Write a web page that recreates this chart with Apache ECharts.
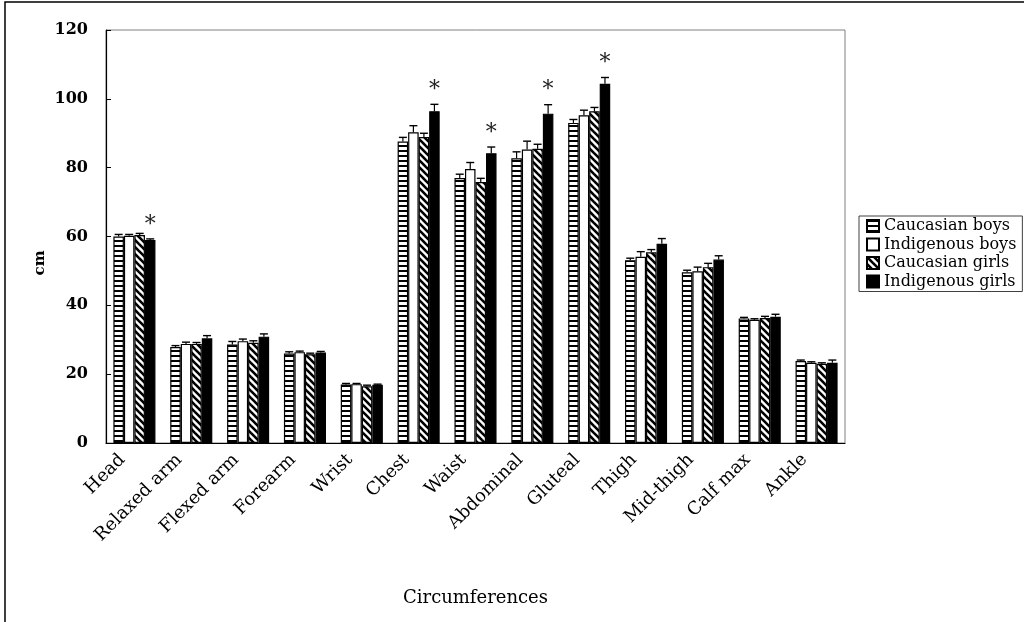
<!DOCTYPE html>
<html>
<head>
<meta charset="utf-8">
<script src="https://cdn.jsdelivr.net/npm/echarts@6/dist/echarts.min.js"></script>
<style>
  html, body { margin: 0; padding: 0; background: #fff; }
  #chart { width: 1024px; height: 622px; }
</style>
</head>
<body>
<div id="chart"></div>
<script>
// Body circumferences (cm), mean with upward SE bar
const categories = ['Head', 'Relaxed arm', 'Flexed arm', 'Forearm', 'Wrist', 'Chest', 'Waist',
  'Abdominal', 'Gluteal', 'Thigh', 'Mid-thigh', 'Calf max', 'Ankle'];
const seriesNames = ['Caucasian boys', 'Indigenous boys', 'Caucasian girls', 'Indigenous girls'];

const caucasianBoys    = [60.0, 27.9, 28.6, 26.0, 17.0, 87.6, 77.0, 82.7, 93.0, 53.1, 49.6, 36.2, 23.8];
const caucasianBoysSE  = [0.6, 0.4, 0.9, 0.5, 0.3, 1.2, 1.1, 1.9, 1.0, 0.6, 0.6, 0.3, 0.3];
const indigenousBoys   = [60.2, 28.8, 29.6, 26.4, 17.1, 90.3, 79.6, 85.3, 95.2, 54.1, 49.9, 35.8, 23.3];
const indigenousBoysSE = [0.4, 0.5, 0.6, 0.3, 0.2, 1.9, 1.9, 2.4, 1.5, 1.5, 1.2, 0.3, 0.3];
const caucasianGirls   = [60.4, 28.8, 29.1, 25.8, 16.5, 88.9, 75.8, 85.5, 96.4, 55.4, 51.1, 36.3, 23.0];
const caucasianGirlsSE = [0.5, 0.4, 0.6, 0.3, 0.3, 1.1, 1.1, 1.3, 1.1, 0.8, 1.1, 0.5, 0.3];
const indigenousGirls  = [59.0, 30.4, 30.9, 26.3, 16.9, 96.4, 84.2, 95.7, 104.4, 57.9, 53.3, 36.7, 23.3];
const indigenousGirlsSE= [0.3, 0.8, 0.8, 0.3, 0.2, 2.0, 1.8, 2.6, 1.8, 1.5, 1.1, 0.7, 0.8];
// significant difference flags (marked with *)
const significant = [true, false, false, false, false, true, true, true, true, false, false, false, false];

const yTicks = [0, 20, 40, 60, 80, 100, 120];

const means = [caucasianBoys, indigenousBoys, caucasianGirls, indigenousGirls];
const errs = [caucasianBoysSE, indigenousBoysSE, caucasianGirlsSE, indigenousGirlsSE];

// fill patterns
function horizontalStripes() {
  const c = document.createElement('canvas');
  c.width = 4; c.height = 5;
  const g = c.getContext('2d');
  g.fillStyle = '#fff'; g.fillRect(0, 0, 4, 5);
  g.fillStyle = '#000'; g.fillRect(0, 0, 4, 2);
  return { image: c, repeat: 'repeat' };
}
function diagonalHatch() {
  const s = 7;
  const c = document.createElement('canvas');
  c.width = s; c.height = s;
  const g = c.getContext('2d');
  g.fillStyle = '#fff'; g.fillRect(0, 0, s, s);
  g.strokeStyle = '#000'; g.lineWidth = 2.6;
  [[0, -s, 2 * s, s], [0, 0, s, s], [-s, 0, s, 2 * s]].forEach(function (l) {
    g.beginPath(); g.moveTo(l[0], l[1]); g.lineTo(l[2], l[3]); g.stroke();
  });
  return { image: c, repeat: 'repeat' };
}
const fills = [horizontalStripes(), '#ffffff', diagonalHatch(), '#000000'];

const GAP = 0.26;

const barSeries = seriesNames.map(function (name, i) {
  return {
    name: name,
    type: 'bar',
    barGap: 0,
    barCategoryGap: (GAP * 100) + '%',
    itemStyle: { color: fills[i], borderColor: '#000', borderWidth: 1.2 },
    data: means[i],
    z: 2
  };
});

const errorSeries = seriesNames.map(function (name, i) {
  return {
    name: name + ' SE',
    type: 'custom',
    z: 3,
    data: means[i].map(function (v, k) { return [k, v, errs[i][k]]; }),
    renderItem: function (params, api) {
      const k = api.value(0);
      const top = api.value(1) + api.value(2);
      const base = api.coord([k, api.value(1)]);
      const tip = api.coord([k, top]);
      const catW = api.size([1, 0])[0];
      const bw = catW * (1 - GAP) / 4;
      const x = base[0] + (i - 1.5) * bw;
      const children = [
        { type: 'line', shape: { x1: x, y1: base[1], x2: x, y2: tip[1] }, style: { stroke: '#000', lineWidth: 1.2 } },
        { type: 'line', shape: { x1: x - 4, y1: tip[1], x2: x + 4, y2: tip[1] }, style: { stroke: '#000', lineWidth: 1.4 } }
      ];
      if (i === 3 && significant[k]) {
        children.push({
          type: 'text',
          style: { text: '*', x: x, y: tip[1] - 14, align: 'center', verticalAlign: 'middle',
            font: '22px "DejaVu Serif"', fill: '#222' }
        });
      }
      return { type: 'group', children: children };
    }
  };
});

const chart = echarts.init(document.getElementById('chart'), null, { renderer: 'canvas' });
chart.setOption({
  animation: false,
  backgroundColor: '#fff',
  grid: { left: 106, right: 179, top: 30, bottom: 179, show: true, borderColor: '#808080', borderWidth: 1 },
  legend: {
    data: seriesNames,
    icon: 'rect',
    orient: 'vertical',
    left: 859, top: 216,
    itemWidth: 12, itemHeight: 12, itemGap: 2.5,
    padding: [2, 6, 2, 7],
    borderColor: '#404040', borderWidth: 1, borderRadius: 0,
    textStyle: { fontFamily: 'DejaVu Serif', fontSize: 16, color: '#000', lineHeight: 16 }
  },
  xAxis: {
    type: 'category',
    data: categories,
    name: 'Circumferences',
    nameLocation: 'middle',
    nameGap: 146,
    nameTextStyle: { fontFamily: 'DejaVu Serif', fontSize: 18, color: '#000' },
    axisLine: { lineStyle: { color: '#000', width: 1.2 } },
    axisTick: { inside: true, length: 5, lineStyle: { color: '#000' } },
    axisLabel: { interval: 0, rotate: 45, margin: 2, padding: [0, 17, 0, 0],
      fontFamily: 'DejaVu Serif', fontSize: 18, color: '#000' }
  },
  yAxis: {
    type: 'value',
    min: yTicks[0], max: yTicks[yTicks.length - 1], interval: 20,
    axisLine: { show: true, lineStyle: { color: '#000', width: 1.2 } },
    axisTick: { show: true, inside: true, length: 5, lineStyle: { color: '#000' } },
    splitLine: { show: false },
    axisLabel: { margin: 18, fontFamily: 'DejaVu Serif', fontWeight: 'bold', fontSize: 16, color: '#000' }
  },
  graphic: [
    { type: 'rect', shape: { x: 5, y: 2, width: 1030, height: 640 },
      style: { fill: 'none', stroke: '#000', lineWidth: 1.5 }, silent: true },
    { type: 'text', x: 40, y: 263, rotation: Math.PI / 2,
      style: { text: 'cm', font: 'bold 15px "DejaVu Serif"', fill: '#000', align: 'center', verticalAlign: 'middle' } }
  ],
  series: barSeries.concat(errorSeries)
});
</script>
</body>
</html>
